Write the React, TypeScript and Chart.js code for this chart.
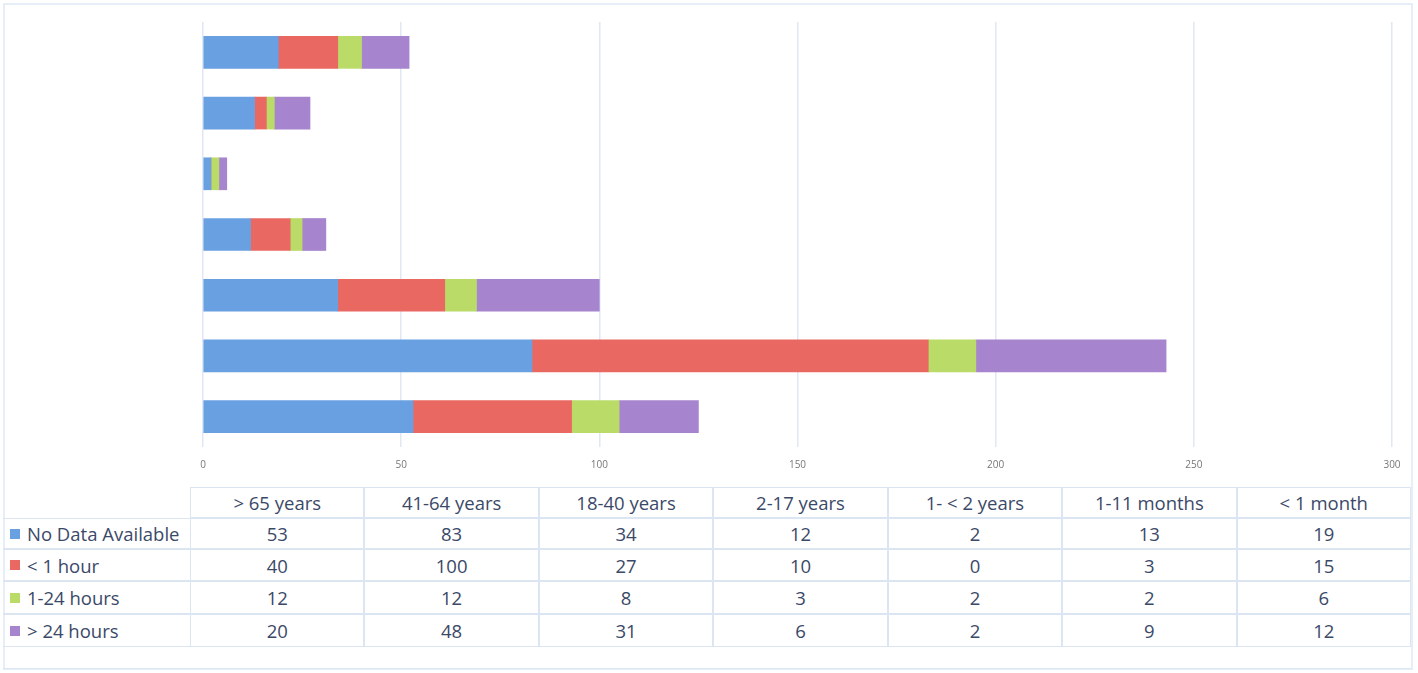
import React, { useEffect, useRef } from "react";
import { Chart, registerables } from "chart.js";

Chart.register(...registerables);

const categories = ["> 65 years", "41-64 years", "18-40 years", "2-17 years", "1- < 2 years", "1-11 months", "< 1 month"];
const seriesNames = ["No Data Available", "< 1 hour", "1-24 hours", "> 24 hours"];
const noData = [53, 83, 34, 12, 2, 13, 19];
const lessOneHour = [40, 100, 27, 10, 0, 3, 15];
const oneTo24 = [12, 12, 8, 3, 2, 2, 6];
const over24 = [20, 48, 31, 6, 2, 9, 12];
const seriesValues = [noData, lessOneHour, oneTo24, over24];
const seriesColors = ["rgb(104,160,226)", "rgb(234,104,98)", "rgb(186,219,104)", "rgb(166,132,206)"];
const xMax = 300;
const xStep = 50;

const FONT = "'Open Sans', Lato, sans-serif";
const TEXT = "#3b4968";
const LINE = "#dce6f2";
const FS = 18.5;

export default function App() {
  const ref = useRef<HTMLCanvasElement | null>(null);

  useEffect(() => {
    if (!ref.current) return;
    const chart = new Chart(ref.current, {
      type: "bar",
      data: {
        labels: categories,
        datasets: seriesValues.map((vals, i) => ({
          label: seriesNames[i],
          data: vals,
          backgroundColor: seriesColors[i],
          borderWidth: 0,
          barThickness: 32,
        })),
      },
      options: {
        indexAxis: "y",
        animation: false,
        responsive: false,
        maintainAspectRatio: false,
        layout: { padding: { left: 203, right: 26, top: 22, bottom: 3 } },
        plugins: { legend: { display: false }, tooltip: { enabled: false } },
        scales: {
          x: {
            stacked: true,
            min: 0,
            max: xMax,
            ticks: { stepSize: xStep, color: "#777777", font: { family: FONT, size: 10 }, padding: 12 },
            grid: { color: "#dfe8f3", lineWidth: 1.5, drawTicks: false },
            border: { display: false },
            afterFit: (s: any) => { s.height = 30; },
          },
          y: {
            stacked: true,
            reverse: true,
            display: false,
          },
        },
      },
    });
    return () => chart.destroy();
  }, []);

  const rowTops = [487, 518, 549, 581, 614, 647, 669];
  const colLeft = 190;
  const colRight = 1411;
  const colW = (colRight - colLeft) / categories.length;

  const cells: React.ReactNode[] = [];
  categories.forEach((c, j) => {
    cells.push(
      <div key={"h" + j} style={{ position: "absolute", left: colLeft + j * colW, top: rowTops[0], width: colW, height: rowTops[1] - rowTops[0], border: `1.5px solid ${LINE}`, boxSizing: "border-box", display: "flex", alignItems: "center", justifyContent: "center", fontSize: FS, color: TEXT, whiteSpace: "nowrap" }}>{c}</div>
    );
  });
  seriesNames.forEach((name, i) => {
    const top = rowTops[i + 1];
    const h = rowTops[i + 2] - top;
    cells.push(
      <div key={"l" + i} style={{ position: "absolute", left: 3, top, width: colLeft - 3, height: h, borderTop: `1.5px solid ${LINE}`, borderBottom: `1.5px solid ${LINE}`, boxSizing: "border-box", display: "flex", alignItems: "center", fontSize: FS, color: TEXT, whiteSpace: "nowrap" }}>
        <span style={{ display: "inline-block", width: 10, height: 10, background: seriesColors[i], marginLeft: 7, marginRight: 7, flex: "none" }} />
        {name}
      </div>
    );
    seriesValues[i].forEach((v, j) => {
      cells.push(
        <div key={"c" + i + "_" + j} style={{ position: "absolute", left: colLeft + j * colW, top, width: colW, height: h, border: `1.5px solid ${LINE}`, boxSizing: "border-box", display: "flex", alignItems: "center", justifyContent: "center", fontSize: FS, color: TEXT }}>{v}</div>
      );
    });
  });

  return (
    <div style={{ position: "absolute", left: 0, top: 0, width: 1418, height: 673, background: "#fff", fontFamily: FONT, overflow: "hidden" }}>
      <div style={{ position: "absolute", left: 3, top: 3, width: 1410, height: 667, border: "2px solid #e6eef7", boxSizing: "border-box" }} />
      <canvas ref={ref} width={1418} height={480} style={{ position: "absolute", left: 0, top: 0 }} />
      {cells}
      <div style={{ position: "absolute", left: 3, top: rowTops[5], width: 1408, height: rowTops[6] - rowTops[5], borderBottom: `1.5px solid ${LINE}`, boxSizing: "border-box" }} />
    </div>
  );
}
